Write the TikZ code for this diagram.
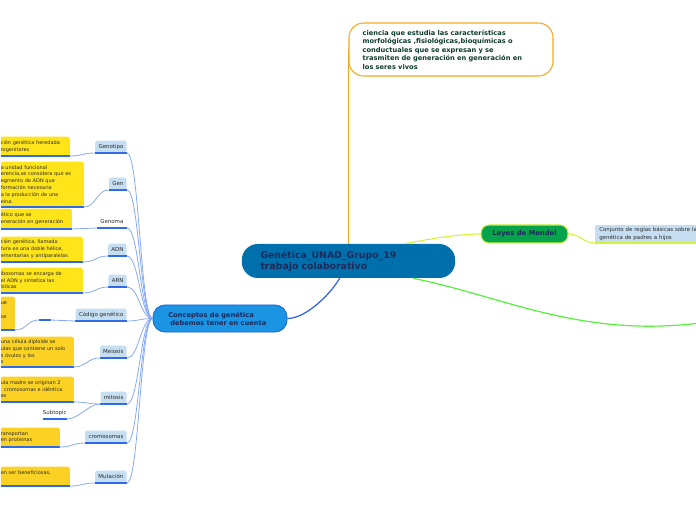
\documentclass[tikz,border=0pt]{standalone}
\usepackage{fontspec}
\setmainfont{DejaVu Sans}
\usepackage{tikz}

\definecolor{mainblue}{HTML}{0070AD}
\definecolor{navy}{HTML}{1B2A5A}
\definecolor{bubbleorange}{HTML}{F7A823}
\definecolor{bubbletext}{HTML}{0D3B2E}
\definecolor{mendelgreen}{HTML}{06A24C}
\definecolor{limeline}{HTML}{D2F23A}
\definecolor{brightgreen}{HTML}{55F23A}
\definecolor{concblue}{HTML}{1C94E4}
\definecolor{concborder}{HTML}{1063D6}
\definecolor{linkblue}{HTML}{2A5CF0}
\definecolor{topicfill}{HTML}{C6DEF1}
\definecolor{underblue}{HTML}{2F6BE8}
\definecolor{twigblue}{HTML}{86A9F3}
\definecolor{leafyellow}{HTML}{FFE41A}
\definecolor{leafgold}{HTML}{FBD224}
\definecolor{smalltext}{HTML}{2B2B2B}

\begin{document}
\begin{tikzpicture}[x=0.75pt, y=-0.75pt,
    topic/.style={fill=topicfill, rounded corners=1.5pt, inner xsep=2.5pt, inner ysep=0pt,
        minimum height=9pt, font=\fontsize{4.1}{5}\selectfont, text=smalltext},
    leaf/.style={fill=leafyellow, rounded corners=1.5pt, inner xsep=0pt, inner ysep=0pt,
        anchor=south west, align=left, font=\fontsize{3.75}{5.1}\selectfont, text=smalltext},
    underline/.style={underblue, line width=1.1pt},
    twig/.style={twigblue, line width=0.6pt}]
    \useasboundingbox (0,0) rectangle (696,520);
    \clip (0,0) rectangle (696,520);

    % Central topic
    \node[fill=mainblue, rounded corners=12pt, minimum width=160pt, minimum height=25.5pt,
        text width=132pt, inner xsep=14pt, align=left,
        font=\fontsize{7}{8.2}\selectfont\bfseries, text=navy] (main) at (348.5,261)
        {Genética\_UNAD\_Grupo\_19\\trabajo colaborativo};

    % Definition bubble
    \node[draw=bubbleorange, line width=0.8pt, fill=white, rounded corners=11pt,
        minimum height=39.75pt, text width=132.5pt, inner xsep=10.25pt, align=left,
        font=\fontsize{5}{6.4}\selectfont\bfseries, text=bubbletext] (definicion) at (451,49.5)
        {ciencia que estudia las características\\morfológicas ,fisiológicas,bioquímicas o\\conductuales que se expresan y se\\trasmiten de generación en generación en\\los seres vivos};
    \draw[bubbleorange, line width=0.9pt] (definicion.west) -- (definicion.west |- main.north);

    % Leyes de Mendel
    \node[fill=mendelgreen, draw=limeline, line width=0.8pt, rounded corners=6pt,
        minimum width=65.25pt, minimum height=13.5pt,
        font=\fontsize{5.1}{6}\selectfont\bfseries, text=navy] (mendel) at (524.5,234) {Leyes de Mendel};
    \node[fill=topicfill, anchor=south west, minimum height=13.5pt, text width=100pt,
        inner xsep=3pt, inner ysep=0pt, align=left,
        font=\fontsize{4.1}{6}\selectfont, text=smalltext] (reglas) at (595,243)
        {Conjunto de reglas básicas sobre la\\genética de padres a hijos};
    \draw[limeline, line width=0.8pt] (main.17) .. controls +(35,-7) and +(-15,0) .. (mendel.west);
    \draw[limeline, line width=0.8pt] (mendel.east) .. controls +(12,0) and +(-12,0) .. (reglas.south west);
    \draw[limeline, line width=1.1pt] (reglas.south west) -- (reglas.south east);

    % Branch leaving to the right
    \coordinate (farright) at (700,323);
    \draw[brightgreen, line width=0.9pt] (main.-15) .. controls +(90,18) and +(-120,15) .. (farright);

    % Conceptos
    \node[fill=concblue, draw=concborder, line width=0.6pt, rounded corners=9pt,
        minimum width=100.5pt, minimum height=20.25pt, text width=80.5pt, inner xsep=10pt,
        align=left, font=\fontsize{5}{6}\selectfont\bfseries, text=navy] (conceptos) at (220,318.5)
        {\hspace*{1.5pt}Conceptos de genética\\\hspace*{3pt}debemos tener en cuenta};
    \draw[linkblue, line width=0.9pt] (main.-117) .. controls +(-10,17) and +(18,0) .. (conceptos.east);

    % Concept labels
    \node[topic, anchor=south east] (genotipo) at (127,153) {Genotipo};
    \node[topic, anchor=south east] (gen) at (127,190) {Gen};
    \node[topic, fill=none, anchor=south east] (genoma) at (127,228) {Genoma};
    \node[topic, anchor=south east] (adn) at (127,256) {ADN};
    \node[topic, anchor=south east] (arn) at (127,287) {ARN};
    \node[topic, anchor=south east] (codigo) at (127,321) {Código genético};
    \node[topic, anchor=south east] (meiosis) at (127,358) {Meiosis};
    \node[topic, anchor=south east] (mitosis) at (127,404) {mitosis};
    \node[topic, anchor=south east] (cromosomas) at (127,443) {cromosomas};
    \node[topic, anchor=south east] (mutacion) at (127,483) {Mutación};
    \node[topic, fill=none, inner xsep=0pt, anchor=south east] (subtopic) at (67,419) {Subtopic};
    \node[minimum width=8.25pt, minimum height=3pt, inner sep=0pt, anchor=south west] (codigohijo) at (39,320) {};

    % Yellow descriptions
    \node[leaf, text width=51.75pt, minimum height=14.25pt] (genotipotxt) at (0.5,156)
        {ción genética heredada\\rogenitores};
    \node[leaf, text width=62.25pt, minimum height=33.75pt] (gentxt) at (0.5,207)
        {a unidad funcional\\erencia,se considera  que es\\egmento de ADN que\\formación necesaria\\a la producción de una\\eína.};
    \node[leaf, text width=53.25pt, minimum height=15pt] (genomatxt) at (0.5,229)
        {ético que se\\eneración en generación};
    \node[leaf, text width=61.5pt, minimum height=18.75pt] (adntxt) at (0.5,262)
        {ción genética, llamado\\tura  es una doble hélice,\\ementarias y antiparalelas};
    \node[leaf, text width=61.5pt, minimum height=18.75pt] (arntxt) at (0.5,293)
        {ibosomas se encarga de\\el ADN y sintetiza las\\ísticas};
    \node[leaf, fill=leafgold, text width=10.5pt, minimum height=24.75pt] (codigotxt) at (0.5,330)
        {ue\\\mbox{}\\os\\\mbox{}};
    \node[leaf, fill=leafgold, text width=54.75pt, minimum height=22.5pt] (meiosistxt) at (0.5,367)
        {una célula diploide se\\ulas que contiene un solo\\s óvulos y los\\s};
    \node[leaf, fill=leafgold, text width=54.75pt, minimum height=18.75pt] (mitosistxt) at (0.5,402)
        {ula madre se originan 2\\\hspace*{2.5pt}cromosomas e idéntica\\es};
    \node[leaf, fill=leafgold, text width=44.25pt, minimum height=14.25pt] (cromosomastxt) at (0.5,447)
        {ransportan\\en proteinas};
    \node[leaf, fill=leafgold, text width=51.75pt, minimum height=14.25pt] (mutaciontxt) at (0.5,486)
        {en ser beneficiosas,\\\mbox{}};

    % Underlines
    \draw[underline] (genotipo.south west) -- (genotipo.south east);
    \draw[underline] (gen.south west) -- (gen.south east);
    \draw[underline] (genoma.south west) -- (genoma.south east);
    \draw[underline] (adn.south west) -- (adn.south east);
    \draw[underline] (arn.south west) -- (arn.south east);
    \draw[underline] (codigo.south west) -- (codigo.south east);
    \draw[underline] (meiosis.south west) -- (meiosis.south east);
    \draw[underline] (mitosis.south west) -- (mitosis.south east);
    \draw[underline] (cromosomas.south west) -- (cromosomas.south east);
    \draw[underline] (mutacion.south west) -- (mutacion.south east);
    \draw[underline] (subtopic.south west) -- (subtopic.south east);
    \draw[underline] (codigohijo.south west) -- (codigohijo.south east);
    \draw[underline] (genotipotxt.south west) -- (genotipotxt.south east);
    \draw[underline] (gentxt.south west) -- (gentxt.south east);
    \draw[underline] (genomatxt.south west) -- (genomatxt.south east);
    \draw[underline] (adntxt.south west) -- (adntxt.south east);
    \draw[underline] (arntxt.south west) -- (arntxt.south east);
    \draw[underline] (codigotxt.south west) -- (codigotxt.south east);
    \draw[underline] (meiosistxt.south west) -- (meiosistxt.south east);
    \draw[underline] (mitosistxt.south west) -- (mitosistxt.south east);
    \draw[underline] (cromosomastxt.south west) -- (cromosomastxt.south east);
    \draw[underline] (mutaciontxt.south west) -- (mutaciontxt.south east);

    % Labels to Conceptos
    \draw[twig] (genotipo.south east) .. controls +(12,0) and +(-12,0) .. (conceptos.west);
    \draw[twig] (gen.south east) .. controls +(12,0) and +(-12,0) .. (conceptos.west);
    \draw[twig] (genoma.south east) .. controls +(12,0) and +(-12,0) .. (conceptos.west);
    \draw[twig] (adn.south east) .. controls +(12,0) and +(-12,0) .. (conceptos.west);
    \draw[twig] (arn.south east) .. controls +(12,0) and +(-12,0) .. (conceptos.west);
    \draw[twig] (codigo.south east) .. controls +(12,0) and +(-12,0) .. (conceptos.west);
    \draw[twig] (meiosis.south east) .. controls +(12,0) and +(-12,0) .. (conceptos.west);
    \draw[twig] (mitosis.south east) .. controls +(12,0) and +(-12,0) .. (conceptos.west);
    \draw[twig] (cromosomas.south east) .. controls +(12,0) and +(-12,0) .. (conceptos.west);
    \draw[twig] (mutacion.south east) .. controls +(12,0) and +(-12,0) .. (conceptos.west);

    % Descriptions to labels
    \draw[twig] (genotipotxt.south east) .. controls +(12,0) and +(-12,0) .. (genotipo.south west);
    \draw[twig] (gentxt.south east) .. controls +(12,0) and +(-12,0) .. (gen.south west);
    \draw[twig] (genomatxt.south east) .. controls +(12,0) and +(-12,0) .. (genoma.south west);
    \draw[twig] (adntxt.south east) .. controls +(12,0) and +(-12,0) .. (adn.south west);
    \draw[twig] (arntxt.south east) .. controls +(12,0) and +(-12,0) .. (arn.south west);
    \draw[twig] (codigohijo.south east) .. controls +(12,0) and +(-12,0) .. (codigo.south west);
    \draw[twig] (codigotxt.south east) .. controls +(12,0) and +(-12,0) .. (codigohijo.south west);
    \draw[twig] (meiosistxt.south east) .. controls +(12,0) and +(-12,0) .. (meiosis.south west);
    \draw[twig] (mitosistxt.south east) .. controls +(12,0) and +(-12,0) .. (mitosis.south west);
    \draw[twig] (subtopic.south east) .. controls +(12,0) and +(-12,0) .. (mitosis.south west);
    \draw[twig] (cromosomastxt.south east) .. controls +(12,0) and +(-12,0) .. (cromosomas.south west);
    \draw[twig] (mutaciontxt.south east) .. controls +(12,0) and +(-12,0) .. (mutacion.south west);
\end{tikzpicture}
\end{document}
